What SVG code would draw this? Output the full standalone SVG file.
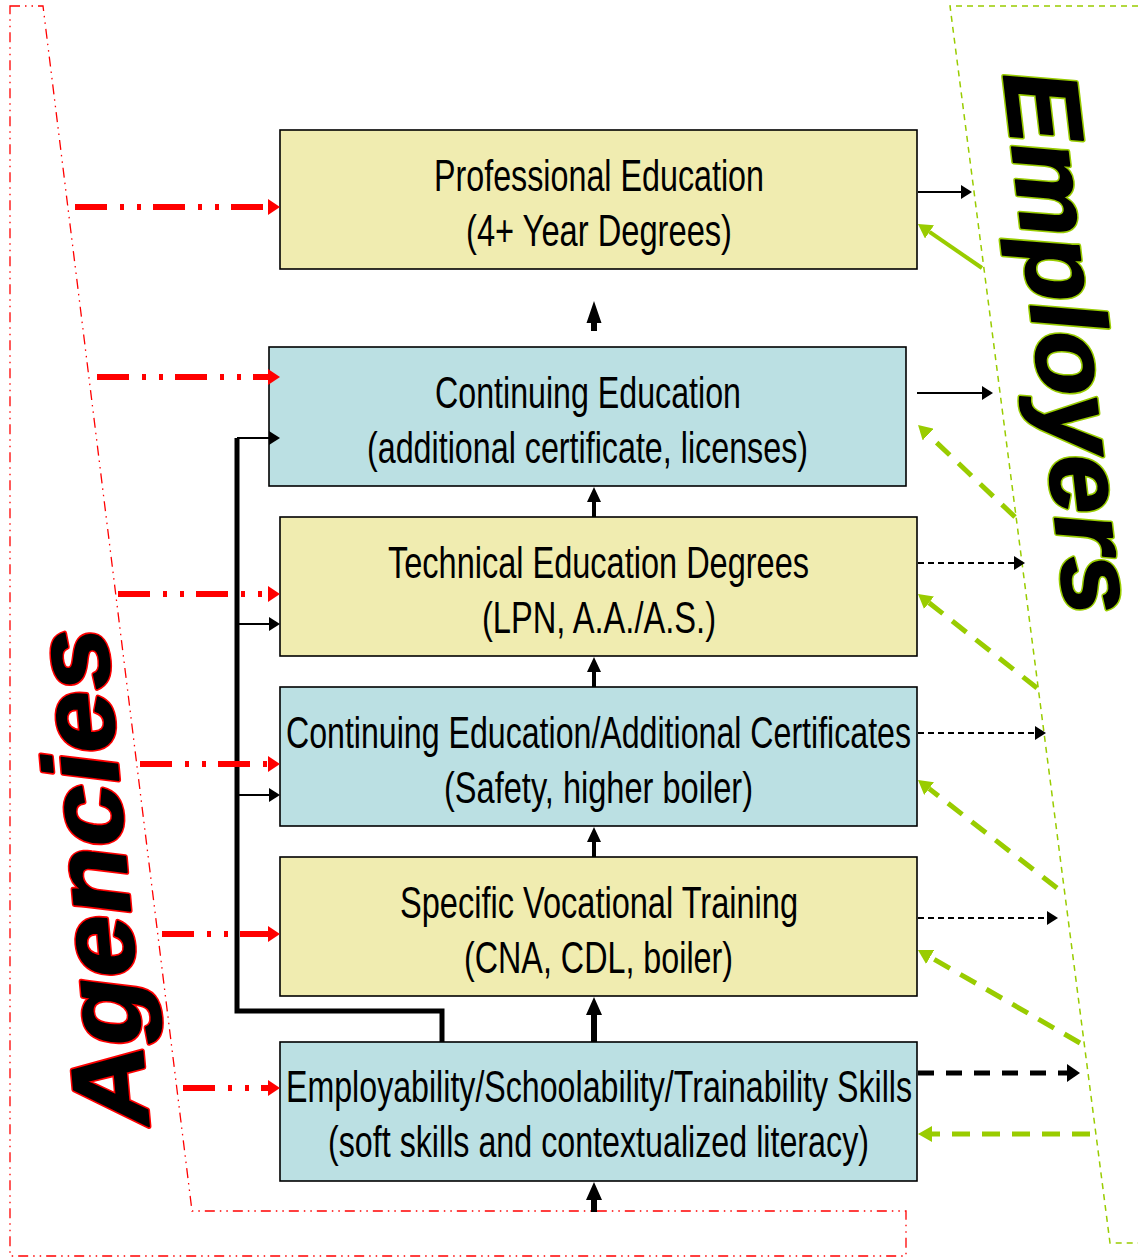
<svg xmlns="http://www.w3.org/2000/svg" width="1138" height="1258" viewBox="0 0 1138 1258">
<defs>
<style>
.box{stroke:#000;stroke-width:1.6}
.yel{fill:#F0ECB0}
.blu{fill:#BBE0E3}
.t{font-family:"Liberation Sans Narrow","Liberation Sans",Arial,sans-serif;font-size:45px;fill:#000}
.big{font-family:"Liberation Sans",Arial,sans-serif;font-size:104px;font-weight:bold;font-style:italic;text-anchor:middle}
.red{stroke:#FF0000;stroke-width:6;stroke-dasharray:32 13 4 13 4 12;fill:none}
.blk{stroke:#000;stroke-width:2;fill:none}
.blkd{stroke:#000;stroke-width:2;stroke-dasharray:6 4;fill:none}
.grn{stroke:#99CC00;stroke-width:5;stroke-dasharray:18 12;fill:none}
</style>
<marker id="rh" markerUnits="userSpaceOnUse" markerWidth="12" markerHeight="16" refX="0" refY="8" orient="auto"><path d="M0,0 L12,8 L0,16 Z" fill="#FF0000"/></marker>
<marker id="bh" markerUnits="userSpaceOnUse" markerWidth="11" markerHeight="14" refX="0" refY="7" orient="auto"><path d="M0,0 L11,7 L0,14 Z" fill="#000"/></marker>
<marker id="bhb" markerUnits="userSpaceOnUse" markerWidth="13" markerHeight="18" refX="0" refY="9" orient="auto"><path d="M0,0 L13,9 L0,18 Z" fill="#000"/></marker>
<marker id="gh" markerUnits="userSpaceOnUse" markerWidth="14" markerHeight="16" refX="0" refY="8" orient="auto"><path d="M0,0 L14,8 L0,16 Z" fill="#99CC00"/></marker>
</defs>
<rect width="1138" height="1258" fill="#fff"/>
<g id="agencies-region">
<path d="M10,6 L43,6 L192,1211 L906,1211 L906,1256 L10,1256 Z" fill="none" stroke="#FF0000" stroke-width="1.3" stroke-dasharray="10 5 1.5 5 1.5 5"/>
<g transform="translate(127,875) rotate(-95)">
<text class="big" x="0" y="0" textLength="500" lengthAdjust="spacingAndGlyphs" fill="none" stroke="#FF0000" stroke-width="5" stroke-linejoin="round">Agencies</text>
<text class="big" x="0" y="0" textLength="500" lengthAdjust="spacingAndGlyphs" fill="#000" stroke="#000" stroke-width="2" stroke-linejoin="round">Agencies</text>
</g>
</g>
<g id="employers-region">
<path d="M1138,6 L950,6 L1110,1243 L1138,1243" fill="none" stroke="#99CC00" stroke-width="1.5" stroke-dasharray="6 5"/>
<g transform="translate(1035,346) rotate(83.4)">
<text class="big" x="0" y="0" textLength="546" lengthAdjust="spacingAndGlyphs" fill="none" stroke="#99CC00" stroke-width="5" stroke-linejoin="round">Employers</text>
<text class="big" x="0" y="0" textLength="546" lengthAdjust="spacingAndGlyphs" fill="#000" stroke="#000" stroke-width="2" stroke-linejoin="round">Employers</text>
</g>
</g>
<g id="node-professional">
<rect class="box yel" x="280" y="130" width="637" height="139"/>
<text class="t" x="434" y="191" textLength="330" lengthAdjust="spacingAndGlyphs">Professional Education</text>
<text class="t" x="466" y="246" textLength="266" lengthAdjust="spacingAndGlyphs">(4+ Year Degrees)</text>
</g>
<g id="node-continuing">
<rect class="box blu" x="269" y="347" width="637" height="139"/>
<text class="t" x="435" y="408" textLength="306" lengthAdjust="spacingAndGlyphs">Continuing Education</text>
<text class="t" x="367" y="463" textLength="441" lengthAdjust="spacingAndGlyphs">(additional certificate, licenses)</text>
</g>
<g id="node-technical">
<rect class="box yel" x="280" y="517" width="637" height="139"/>
<text class="t" x="388" y="578" textLength="421" lengthAdjust="spacingAndGlyphs">Technical Education Degrees</text>
<text class="t" x="482" y="633" textLength="234" lengthAdjust="spacingAndGlyphs">(LPN, A.A./A.S.)</text>
</g>
<g id="node-certificates">
<rect class="box blu" x="280" y="687" width="637" height="139"/>
<text class="t" x="286" y="748" textLength="625" lengthAdjust="spacingAndGlyphs">Continuing Education/Additional Certificates</text>
<text class="t" x="444" y="803" textLength="309" lengthAdjust="spacingAndGlyphs">(Safety, higher boiler)</text>
</g>
<g id="node-vocational">
<rect class="box yel" x="280" y="857" width="637" height="139"/>
<text class="t" x="400" y="918" textLength="398" lengthAdjust="spacingAndGlyphs">Specific Vocational Training</text>
<text class="t" x="464" y="973" textLength="269" lengthAdjust="spacingAndGlyphs">(CNA, CDL, boiler)</text>
</g>
<g id="node-employability">
<rect class="box blu" x="280" y="1042" width="637" height="139"/>
<text class="t" x="286" y="1102" textLength="626" lengthAdjust="spacingAndGlyphs">Employability/Schoolability/Trainability Skills</text>
<text class="t" x="328" y="1157" textLength="541" lengthAdjust="spacingAndGlyphs">(soft skills and contextualized literacy)</text>
</g>
<g id="connectors">
<path d="M594,301 L601.5,323 L597,323 L597,331 L591,331 L591,323 L586.5,323 Z" fill="#000"/>
<path d="M594,487 L601,502 L596,502 L596,517 L592,517 L592,502 L587,502 Z" fill="#000"/>
<path d="M594,657 L601,672 L596,672 L596,687 L592,687 L592,672 L587,672 Z" fill="#000"/>
<path d="M594,827 L601,842 L596,842 L596,857 L592,857 L592,842 L587,842 Z" fill="#000"/>
<path d="M594,997 L602,1015 L597,1015 L597,1042 L591,1042 L591,1015 L586,1015 Z" fill="#000"/>
<path d="M594,1182 L602,1200 L597,1200 L597,1212 L591,1212 L591,1200 L586,1200 Z" fill="#000"/>
<path d="M442,1042 L442,1011 L237,1011 L237,438" fill="none" stroke="#000" stroke-width="5" stroke-linejoin="miter"/>
<line class="blk" x1="237" y1="438" x2="269" y2="438" marker-end="url(#bh)"/>
<line class="blk" x1="237" y1="624" x2="269" y2="624" marker-end="url(#bh)"/>
<line class="blk" x1="237" y1="795" x2="269" y2="795" marker-end="url(#bh)"/>
<line class="red" x1="75" y1="207" x2="268" y2="207" marker-end="url(#rh)"/>
<line class="red" x1="97" y1="377" x2="268" y2="377" marker-end="url(#rh)"/>
<line class="red" x1="118" y1="594" x2="268" y2="594" marker-end="url(#rh)"/>
<line class="red" x1="140" y1="764" x2="268" y2="764" marker-end="url(#rh)"/>
<line class="red" x1="162" y1="934" x2="268" y2="934" marker-end="url(#rh)"/>
<line class="red" x1="183" y1="1088" x2="268" y2="1088" marker-end="url(#rh)"/>
<line class="blk" x1="918" y1="192" x2="961" y2="192" marker-end="url(#bh)"/>
<line class="blk" x1="917" y1="393" x2="982" y2="393" marker-end="url(#bh)"/>
<line class="blkd" x1="918" y1="563" x2="1014" y2="563" marker-end="url(#bh)"/>
<line class="blkd" x1="918" y1="733" x2="1035" y2="733" marker-end="url(#bh)"/>
<line class="blkd" x1="918" y1="918" x2="1047" y2="918" marker-end="url(#bh)"/>
<line x1="918" y1="1073" x2="1067" y2="1073" stroke="#000" stroke-width="5" stroke-dasharray="16 12" marker-end="url(#bhb)"/>
<line x1="982" y1="268" x2="929.5" y2="231.9" stroke="#99CC00" stroke-width="4" marker-end="url(#gh)"/>
<line class="grn" x1="1015" y1="517" x2="928.2" y2="434.6" marker-end="url(#gh)"/>
<line class="grn" x1="1037" y1="688" x2="929" y2="602.7" marker-end="url(#gh)"/>
<line class="grn" x1="1057" y1="888" x2="929.1" y2="788.6" marker-end="url(#gh)"/>
<line class="grn" x1="1080" y1="1043" x2="930.1" y2="957" marker-end="url(#gh)"/>
<line class="grn" x1="1090" y1="1134" x2="932" y2="1134" marker-end="url(#gh)"/>
</g>
</svg>
